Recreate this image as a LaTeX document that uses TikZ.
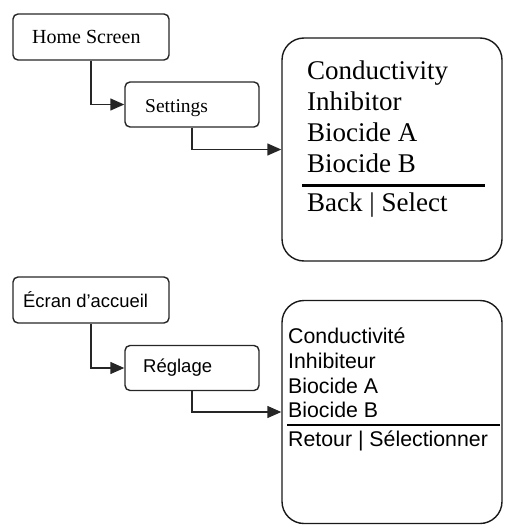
\documentclass[tikz,border=0pt]{standalone}
\usepackage{fontspec}
\setmainfont{Liberation Serif}
\newfontfamily\arialf{Liberation Sans}
\usetikzlibrary{arrows.meta}
\tikzset{
  smallbox/.style={draw=black!85, line width=1.4pt, rounded corners=5pt, minimum width=156pt, minimum height=46pt, inner sep=0pt},
  midbox/.style={draw=black!85, line width=1.4pt, rounded corners=5pt, minimum width=134pt, minimum height=45pt, inner sep=0pt},
  screenbox/.style={draw=black!90, line width=1.4pt, rounded corners=22pt, minimum width=220pt, minimum height=223pt, inner sep=0pt},
  arr/.style={draw=black!85, line width=1.4pt, -{Triangle[length=14pt,width=12pt]}},
  txt/.style={anchor=base west, inner sep=0pt},
  sepline/.style={draw=black, line cap=butt}
}
\begin{document}
\begin{tikzpicture}[x=1pt,y=-1pt]
\useasboundingbox (0,0) rectangle (504,525);
% upper part
\node[smallbox] (home) at (91,37) {};
\node[midbox] (settings) at (192,104.5) {};
\node[screenbox] (screen) at (392,149.5) {};
\node[txt] (thome) at (32,43) {\fontsize{20}{22}\selectfont Home Screen};
\node[txt] (tset) at (145,112) {\fontsize{19.5}{22}\selectfont Settings};
\draw[arr] (home.south) |- (settings.west);
\draw[arr] (settings.south) |- (screen.west);
\node[txt] (c1) at (307,79) {\fontsize{27}{30}\selectfont Conductivity};
\node[txt] (c2) at (307,110) {\fontsize{27}{30}\selectfont Inhibitor};
\node[txt] (c3) at (307,141) {\fontsize{27}{30}\selectfont Biocide A};
\node[txt] (c4) at (307,172) {\fontsize{27}{30}\selectfont Biocide B};
\draw[sepline, line width=3pt] (302,185) -- (485,185);
\node[txt] (c5) at (307,211) {\fontsize{27}{30}\selectfont Back | Select};
% lower part
\node[smallbox] (ecran) at (91,300) {};
\node[midbox] (reglage) at (192,368) {};
\node[screenbox] (ecr) at (392,412) {};
\node[txt] (tecran) at (23,307) {\arialf\fontsize{18.4}{21}\selectfont Écran d’accueil};
\node[txt] (treg) at (143,372) {\arialf\fontsize{18.5}{21}\selectfont Réglage};
\draw[arr] (ecran.south) |- (reglage.west);
\draw[arr] (reglage.south) |- (ecr.west);
\node[txt] (f1) at (288,343) {\arialf\fontsize{21.3}{24}\selectfont Conductivité};
\node[txt] (f2) at (288,368) {\arialf\fontsize{21.3}{24}\selectfont Inhibiteur};
\node[txt] (f3) at (288,393) {\arialf\fontsize{21.3}{24}\selectfont Biocide A};
\node[txt] (f4) at (288,417) {\arialf\fontsize{21.3}{24}\selectfont Biocide B};
\draw[sepline, line width=2.2pt] (287,425) -- (500,425);
\node[txt] (f5) at (288,446) {\arialf\fontsize{21.3}{24}\selectfont Retour | Sélectionner};
\end{tikzpicture}
\end{document}
